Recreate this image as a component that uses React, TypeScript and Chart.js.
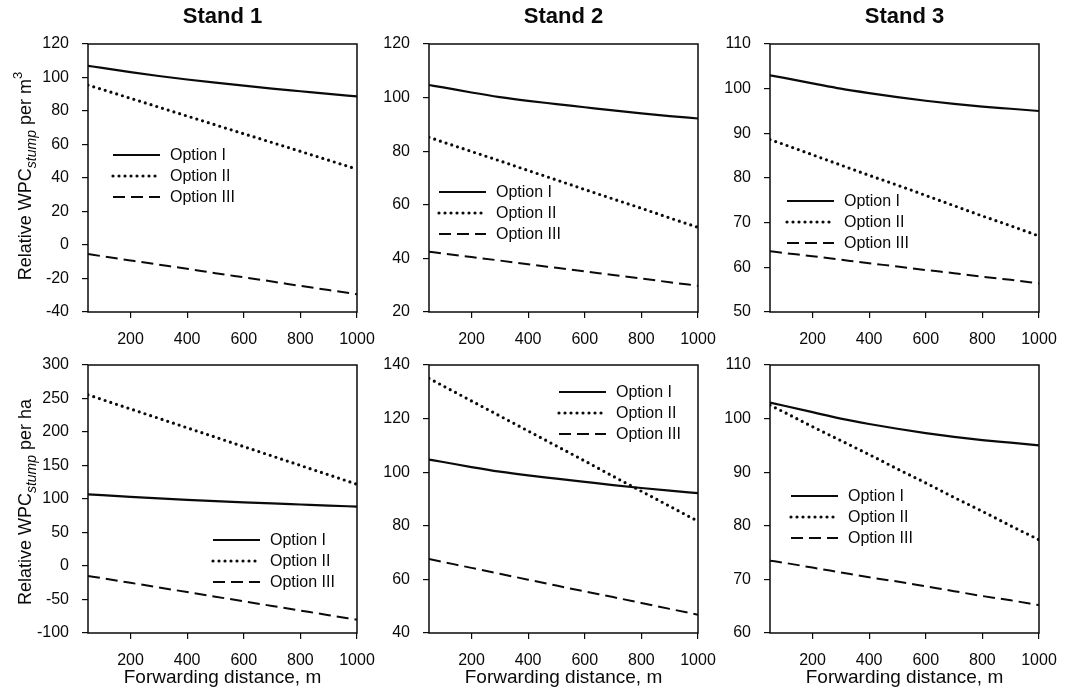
import React, { useEffect, useRef } from "react";
import { Chart, registerables } from "chart.js";

Chart.register(...registerables);

const FONT = "'Liberation Sans', Arial, Helvetica, sans-serif";
const INK = "#0a0a0a";

// ---------- data ----------
const distances = [50, 100, 200, 300, 400, 500, 600, 700, 800, 900, 1000];
const xTickValues = [200, 400, 600, 800, 1000];
const optionLabels = ["Option I", "Option II", "Option III"];
const standTitles = ["Stand 1", "Stand 2", "Stand 3"];
const xAxisTitle = "Forwarding distance, m";

// Option I (same relative curve per m3 and per ha)
const stand1Opt1 = [107.0, 105.7, 103.2, 100.9, 98.8, 96.9, 95.1, 93.4, 91.8, 90.2, 88.7];
const stand2Opt1 = [104.7, 103.8, 101.9, 100.2, 98.8, 97.6, 96.4, 95.2, 94.1, 93.1, 92.2];
const stand3Opt1 = [103.0, 102.4, 101.2, 100.0, 99.0, 98.1, 97.3, 96.6, 96.0, 95.5, 95.0];

// per m3
const stand1M3Opt2 = [95.5, 92.9, 87.6, 82.3, 77.0, 71.7, 66.4, 61.2, 55.9, 50.6, 45.3];
const stand1M3Opt3 = [-5.4, -6.7, -9.2, -11.7, -14.2, -16.8, -19.3, -21.8, -24.4, -26.9, -29.4];
const stand2M3Opt2 = [85.2, 83.4, 79.9, 76.4, 72.8, 69.3, 65.7, 62.2, 58.7, 55.1, 51.6];
const stand2M3Opt3 = [42.5, 41.8, 40.5, 39.2, 37.8, 36.5, 35.2, 33.8, 32.5, 31.1, 29.8];
const stand3M3Opt2 = [88.6, 87.5, 85.2, 82.9, 80.6, 78.4, 76.1, 73.8, 71.5, 69.3, 67.0];
const stand3M3Opt3 = [63.6, 63.2, 62.5, 61.7, 60.9, 60.2, 59.4, 58.7, 57.9, 57.2, 56.4];

// per ha
const stand1HaOpt2 = [255.5, 248.5, 234.4, 220.4, 206.3, 192.3, 178.2, 164.2, 150.1, 136.1, 122.0];
const stand1HaOpt3 = [-14.8, -18.2, -25.1, -32.0, -38.9, -45.8, -52.7, -59.6, -66.5, -73.4, -80.2];
const stand2HaOpt2 = [135.0, 132.2, 126.6, 121.0, 115.4, 109.8, 104.2, 98.5, 92.9, 87.3, 81.7];
const stand2HaOpt3 = [67.6, 66.5, 64.3, 62.1, 59.9, 57.7, 55.5, 53.4, 51.2, 49.0, 46.8];
const stand3HaOpt2 = [102.5, 101.2, 98.5, 95.9, 93.3, 90.6, 88.0, 85.3, 82.7, 80.0, 77.4];
const stand3HaOpt3 = [73.5, 73.1, 72.2, 71.3, 70.4, 69.6, 68.7, 67.8, 66.9, 66.1, 65.2];

// y axis [min, max, step]
const stand1M3Axis = [-40, 120, 20];
const stand2M3Axis = [20, 120, 20];
const stand3M3Axis = [50, 110, 10];
const stand1HaAxis = [-100, 300, 50];
const stand2HaAxis = [40, 140, 20];
const stand3HaAxis = [60, 110, 10];

// ---------- layout ----------
const CHART_LEFTS = [88, 429, 770];
const CHART_TOPS = [44, 365];
const ROW_BOTTOMS = [350, 700];
const CHART_W = 269;
const CHART_H = 268;

const lineStyles = [
  { width: 2.2, dash: [] as number[], cap: "butt" as CanvasLineCap },
  { width: 3.2, dash: [0, 6], cap: "round" as CanvasLineCap },
  { width: 2, dash: [12, 6], cap: "butt" as CanvasLineCap },
];

type PanelDef = {
  row: number;
  col: number;
  series: number[][];
  axis: number[];
  legend: { dx: number; dy: number };
};

const panels: PanelDef[] = [
  { row: 0, col: 0, series: [stand1Opt1, stand1M3Opt2, stand1M3Opt3], axis: stand1M3Axis, legend: { dx: 25, dy: 111 } },
  { row: 0, col: 1, series: [stand2Opt1, stand2M3Opt2, stand2M3Opt3], axis: stand2M3Axis, legend: { dx: 10, dy: 148 } },
  { row: 0, col: 2, series: [stand3Opt1, stand3M3Opt2, stand3M3Opt3], axis: stand3M3Axis, legend: { dx: 17, dy: 157 } },
  { row: 1, col: 0, series: [stand1Opt1, stand1HaOpt2, stand1HaOpt3], axis: stand1HaAxis, legend: { dx: 125, dy: 175 } },
  { row: 1, col: 1, series: [stand2Opt1, stand2HaOpt2, stand2HaOpt3], axis: stand2HaAxis, legend: { dx: 130, dy: 27 } },
  { row: 1, col: 2, series: [stand3Opt1, stand3HaOpt2, stand3HaOpt3], axis: stand3HaAxis, legend: { dx: 21, dy: 131 } },
];

type RichPart = { text: string; size: number; italic?: boolean; dy?: number };

function drawRich(ctx: CanvasRenderingContext2D, parts: RichPart[], cx: number, cy: number) {
  ctx.save();
  ctx.translate(cx, cy);
  ctx.rotate(-Math.PI / 2);
  ctx.fillStyle = INK;
  ctx.textBaseline = "alphabetic";
  ctx.textAlign = "left";
  let total = 0;
  const widths = parts.map((p) => {
    ctx.font = `${p.italic ? "italic " : ""}${p.size}px ${FONT}`;
    const w = ctx.measureText(p.text).width;
    total += w;
    return w;
  });
  let x = -total / 2;
  parts.forEach((p, i) => {
    ctx.font = `${p.italic ? "italic " : ""}${p.size}px ${FONT}`;
    ctx.fillText(p.text, x, p.dy || 0);
    x += widths[i];
  });
  ctx.restore();
}

function Panel({ def }: { def: PanelDef }) {
  const ref = useRef<HTMLCanvasElement | null>(null);
  const chartLeft = CHART_LEFTS[def.col];
  const chartTop = CHART_TOPS[def.row];
  const canvasLeft = def.col === 0 ? 0 : chartLeft - 64;
  const canvasTop = chartTop - 44;
  const canvasBottom = ROW_BOTTOMS[def.row];
  const padRight = 40;
  const width = chartLeft + CHART_W + padRight - canvasLeft;
  const height = canvasBottom - canvasTop;
  const yAxisW = chartLeft - canvasLeft;
  const padTop = chartTop - canvasTop;
  const xAxisH = canvasBottom - (chartTop + CHART_H);

  useEffect(() => {
    const canvas = ref.current;
    if (!canvas) return;
    const [ymin, ymax, ystep] = def.axis;

    const decor = {
      id: "decor",
      afterDraw(chart: any) {
        const ctx: CanvasRenderingContext2D = chart.ctx;
        const a = chart.chartArea;
        ctx.save();
        // frame
        ctx.strokeStyle = INK;
        ctx.lineWidth = 1.5;
        ctx.setLineDash([]);
        ctx.strokeRect(a.left, a.top, a.right - a.left, a.bottom - a.top);
        // legend
        const lx = a.left + def.legend.dx;
        optionLabels.forEach((lab, i) => {
          const y = a.top + def.legend.dy + i * 21;
          const st = lineStyles[i];
          ctx.beginPath();
          ctx.lineWidth = st.width;
          ctx.lineCap = st.cap;
          ctx.setLineDash(st.dash);
          ctx.moveTo(lx, y);
          ctx.lineTo(lx + 47, y);
          ctx.stroke();
          ctx.setLineDash([]);
          ctx.lineCap = "butt";
          ctx.fillStyle = INK;
          ctx.font = `16px ${FONT}`;
          ctx.textBaseline = "middle";
          ctx.textAlign = "left";
          ctx.fillText(lab, lx + 57, y + 1);
        });
        // titles
        const cx = (a.left + a.right) / 2;
        ctx.fillStyle = INK;
        if (def.row === 0) {
          ctx.font = `bold 22px ${FONT}`;
          ctx.textAlign = "center";
          ctx.textBaseline = "middle";
          ctx.fillText(standTitles[def.col], cx, a.top - 27);
        } else {
          ctx.font = `19px ${FONT}`;
          ctx.textAlign = "center";
          ctx.textBaseline = "middle";
          ctx.fillText(xAxisTitle, cx, a.bottom + 45);
        }
        ctx.restore();
        if (def.col === 0) {
          const parts: RichPart[] =
            def.row === 0
              ? [
                  { text: "Relative WPC", size: 18 },
                  { text: "stump", size: 14, italic: true, dy: 5 },
                  { text: " per m", size: 18 },
                  { text: "3", size: 13, dy: -9 },
                ]
              : [
                  { text: "Relative WPC", size: 18 },
                  { text: "stump", size: 14, italic: true, dy: 5 },
                  { text: " per ha", size: 18 },
                ];
          drawRich(ctx, parts, 31, (a.top + a.bottom) / 2 + (def.row === 0 ? -2 : 3));
        }
      },
    };

    const gridOpts = {
      display: true,
      drawOnChartArea: false,
      drawTicks: true,
      tickLength: 6,
      color: INK,
      lineWidth: 1.2,
    };

    const chart = new Chart(canvas, {
      type: "line",
      data: {
        datasets: def.series.map((vals, i) => ({
          label: optionLabels[i],
          data: distances.map((d, j) => ({ x: d, y: vals[j] })),
          borderColor: INK,
          backgroundColor: INK,
          borderWidth: lineStyles[i].width,
          borderDash: lineStyles[i].dash,
          borderCapStyle: lineStyles[i].cap,
          pointRadius: 0,
          fill: false,
          cubicInterpolationMode: "monotone" as const,
        })),
      },
      options: {
        responsive: false,
        animation: false,
        events: [],
        layout: { padding: { left: 0, right: padRight, top: padTop, bottom: 0 } },
        plugins: {
          legend: { display: false },
          title: { display: false },
          tooltip: { enabled: false },
        },
        scales: {
          x: {
            type: "linear",
            min: 50,
            max: 1000,
            afterBuildTicks: (s: any) => {
              s.ticks = xTickValues.map((v) => ({ value: v }));
            },
            afterFit: (s: any) => {
              s.height = xAxisH;
            },
            grid: gridOpts,
            border: { display: false },
            ticks: {
              font: { family: FONT, size: 16 },
              color: INK,
              padding: 12,
              maxRotation: 0,
              autoSkip: false,
              callback: (v: any) => String(v),
            },
          },
          y: {
            type: "linear",
            min: ymin,
            max: ymax,
            afterFit: (s: any) => {
              s.width = yAxisW;
            },
            grid: gridOpts,
            border: { display: false },
            ticks: {
              stepSize: ystep,
              font: { family: FONT, size: 16 },
              color: INK,
              padding: 13,
              callback: (v: any) => String(v),
            },
          },
        },
      } as any,
      plugins: [decor],
    });
    return () => chart.destroy();
  }, []);

  return (
    <canvas
      ref={ref}
      width={width}
      height={height}
      style={{ position: "absolute", left: canvasLeft, top: canvasTop, width, height }}
    />
  );
}

export default function App() {
  return (
    <div
      style={{
        position: "fixed",
        left: 0,
        top: 0,
        width: 1065,
        height: 700,
        background: "#ffffff",
        overflow: "hidden",
      }}
    >
      {panels.map((p, i) => (
        <Panel key={i} def={p} />
      ))}
    </div>
  );
}
